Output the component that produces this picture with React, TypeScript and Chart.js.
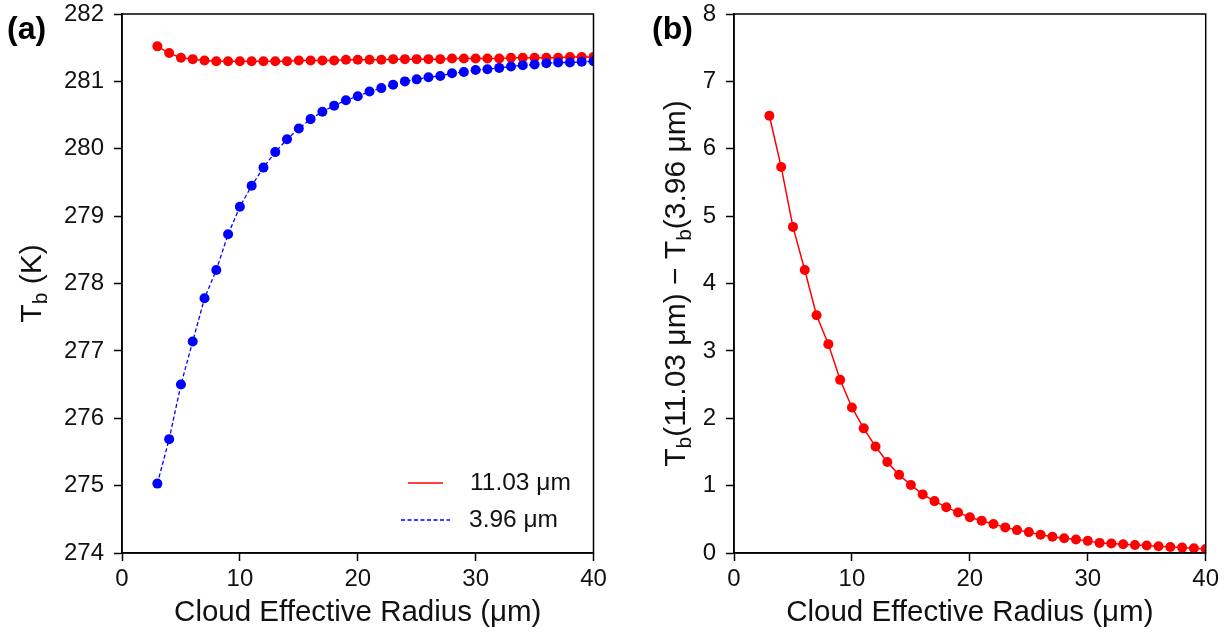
import React, { useEffect, useRef } from 'react';
import { Chart, registerables } from 'chart.js';

Chart.register(...registerables);

const FONT = "'Liberation Sans', Arial, Helvetica, sans-serif";

// Cloud effective radius (µm)
const radius = [3, 4, 5, 6, 7, 8, 9, 10, 11, 12, 13, 14, 15, 16, 17, 18, 19, 20, 21, 22, 23, 24, 25, 26, 27, 28, 29, 30, 31, 32, 33, 34, 35, 36, 37, 38, 39, 40];

// Tb at 11.03 µm (K)
const tb1103 = [281.52, 281.42, 281.35, 281.33, 281.31, 281.30, 281.30, 281.30, 281.30, 281.30, 281.30, 281.30, 281.31, 281.31, 281.31, 281.31, 281.32, 281.32, 281.32, 281.32, 281.33, 281.33, 281.33, 281.33, 281.33, 281.34, 281.34, 281.34, 281.34, 281.34, 281.35, 281.35, 281.35, 281.35, 281.35, 281.36, 281.36, 281.36];

// Tb at 3.96 µm (K)
const tb396 = [275.03, 275.69, 276.50, 277.14, 277.78, 278.20, 278.73, 279.14, 279.45, 279.72, 279.95, 280.14, 280.30, 280.44, 280.55, 280.64, 280.72, 280.78, 280.85, 280.90, 280.95, 281.00, 281.03, 281.06, 281.08, 281.12, 281.14, 281.17, 281.18, 281.20, 281.22, 281.24, 281.25, 281.27, 281.28, 281.28, 281.29, 281.30];

// Tb(11.03) - Tb(3.96) (K)
const tbDiff = [6.49, 5.73, 4.84, 4.20, 3.53, 3.10, 2.57, 2.16, 1.85, 1.58, 1.35, 1.16, 1.01, 0.87, 0.77, 0.68, 0.60, 0.53, 0.48, 0.43, 0.38, 0.34, 0.31, 0.27, 0.24, 0.22, 0.20, 0.18, 0.15, 0.14, 0.13, 0.12, 0.11, 0.10, 0.09, 0.08, 0.07, 0.06];

const xTicks = [0, 10, 20, 30, 40];
const leftYTicks = [274, 275, 276, 277, 278, 279, 280, 281, 282];
const rightYTicks = [0, 1, 2, 3, 4, 5, 6, 7, 8];

const xTitle = 'Cloud Effective Radius (μm)';
const leftYTitle = [
  { t: 'T', sub: false },
  { t: 'b', sub: true },
  { t: ' (K)', sub: false },
];
const rightYTitle = [
  { t: 'T', sub: false },
  { t: 'b', sub: true },
  { t: '(11.03 μm) − T', sub: false },
  { t: 'b', sub: true },
  { t: '(3.96 μm)', sub: false },
];
const legendItems = [
  { label: '11.03 μm', color: '#ff0000', dash: [] as number[], x1: 408, x2: 443, tx: 470, y: 483 },
  { label: '3.96 μm', color: '#0000ff', dash: [4, 2.5], x1: 401, x2: 450, tx: 469, y: 520 },
];

type Part = { t: string; sub: boolean };

interface PanelCfg {
  panel: string;
  panelX: number;
  yTitle: Part[];
  yTitleX: number;
  showLegend: boolean;
}

function makeDecor(cfg: PanelCfg) {
  return {
    id: 'decor' + cfg.panel,
    afterDraw(chart: any) {
      const { ctx, chartArea: ca } = chart;
      ctx.save();
      ctx.strokeStyle = '#000';
      ctx.lineWidth = 1.5;
      ctx.strokeRect(ca.left, ca.top, ca.right - ca.left, ca.bottom - ca.top);

      ctx.fillStyle = '#000';
      ctx.font = `bold 32px ${FONT}`;
      ctx.textAlign = 'left';
      ctx.textBaseline = 'middle';
      ctx.fillText(cfg.panel, cfg.panelX, 30);

      if (cfg.showLegend) {
        ctx.font = `24.5px ${FONT}`;
        for (const it of legendItems) {
          ctx.strokeStyle = it.color;
          ctx.lineWidth = 1.5;
          ctx.setLineDash(it.dash);
          ctx.beginPath();
          ctx.moveTo(it.x1, it.y);
          ctx.lineTo(it.x2, it.y);
          ctx.stroke();
          ctx.setLineDash([]);
          ctx.fillStyle = '#111';
          ctx.fillText(it.label, it.tx, it.y);
        }
      }

      // rotated y-axis title with subscripts
      ctx.translate(cfg.yTitleX, (ca.top + ca.bottom) / 2);
      ctx.rotate(-Math.PI / 2);
      const mainF = `30px ${FONT}`;
      const subF = `21px ${FONT}`;
      let total = 0;
      for (const p of cfg.yTitle) {
        ctx.font = p.sub ? subF : mainF;
        total += ctx.measureText(p.t).width;
      }
      let x = -total / 2;
      ctx.fillStyle = '#111';
      ctx.textAlign = 'left';
      ctx.textBaseline = 'middle';
      for (const p of cfg.yTitle) {
        ctx.font = p.sub ? subF : mainF;
        ctx.fillText(p.t, x, p.sub ? 8 : 0);
        x += ctx.measureText(p.t).width;
      }
      ctx.restore();
    },
  };
}

function axisCommon() {
  return {
    grid: { drawOnChartArea: false, drawTicks: true, tickLength: 8, tickWidth: 1.5, color: '#000' },
    border: { display: true, color: '#000', width: 1.5 },
  };
}

function buildConfig(
  datasets: any[],
  yMin: number,
  yMax: number,
  yTicks: number[],
  yWidth: number,
  padRight: number,
  cfg: PanelCfg
): any {
  return {
    type: 'line',
    data: { datasets },
    options: {
      responsive: false,
      animation: false,
      events: [],
      devicePixelRatio: 1,
      layout: { padding: { left: 0, right: padRight, top: 14, bottom: 0 } },
      plugins: { legend: { display: false }, tooltip: { enabled: false } },
      scales: {
        x: {
          type: 'linear',
          position: 'bottom',
          min: 0,
          max: 40,
          afterBuildTicks: (s: any) => {
            s.ticks = xTicks.map((v) => ({ value: v }));
          },
          afterFit: (s: any) => {
            s.height = 81;
            s.paddingLeft = 0;
            s.paddingRight = 0;
          },
          ticks: {
            color: '#111',
            font: { size: 24, family: FONT },
            padding: 4,
            maxRotation: 0,
            callback: (v: any) => String(v),
          },
          title: {
            display: true,
            text: xTitle,
            color: '#111',
            font: { size: 29.5, family: FONT },
            padding: { top: 0, bottom: 3 },
          },
          ...axisCommon(),
        },
        y: {
          type: 'linear',
          position: 'left',
          min: yMin,
          max: yMax,
          afterBuildTicks: (s: any) => {
            s.ticks = yTicks.map((v) => ({ value: v }));
          },
          afterFit: (s: any) => {
            s.width = yWidth;
            s.paddingTop = 0;
            s.paddingBottom = 0;
          },
          ticks: {
            color: '#111',
            font: { size: 24, family: FONT },
            padding: 10,
            callback: (v: any) => String(v),
          },
          ...axisCommon(),
        },
      },
    },
    plugins: [makeDecor(cfg)],
  };
}

function series(ys: number[]) {
  return radius.map((r, i) => ({ x: r, y: ys[i] }));
}

export default function App() {
  const leftRef = useRef<HTMLCanvasElement>(null);
  const rightRef = useRef<HTMLCanvasElement>(null);

  useEffect(() => {
    Chart.defaults.font.family = FONT;
    const left = new Chart(
      leftRef.current as HTMLCanvasElement,
      buildConfig(
        [
          {
            label: '3.96 μm',
            data: series(tb396),
            borderColor: '#0000ff',
            backgroundColor: '#0000ff',
            borderWidth: 1.3,
            borderDash: [4, 2.5],
            pointRadius: 5,
            pointBorderWidth: 0,
            tension: 0,
            order: 0,
          },
          {
            label: '11.03 μm',
            data: series(tb1103),
            borderColor: '#ff0000',
            backgroundColor: '#ff0000',
            borderWidth: 1.5,
            pointRadius: 5,
            pointBorderWidth: 0,
            tension: 0,
            order: 1,
          },
        ],
        274,
        282,
        leftYTicks,
        122,
        20.5,
        { panel: '(a)', panelX: 7, yTitle: leftYTitle, yTitleX: 33, showLegend: true }
      )
    );
    const right = new Chart(
      rightRef.current as HTMLCanvasElement,
      buildConfig(
        [
          {
            label: 'diff',
            data: series(tbDiff),
            borderColor: '#ff0000',
            backgroundColor: '#ff0000',
            borderWidth: 1.5,
            pointRadius: 5,
            pointBorderWidth: 0,
            tension: 0,
          },
        ],
        0,
        8,
        rightYTicks,
        120,
        23.3,
        { panel: '(b)', panelX: 38, yTitle: rightYTitle, yTitleX: 63, showLegend: false }
      )
    );
    return () => {
      left.destroy();
      right.destroy();
    };
  }, []);

  return (
    <div style={{ position: 'absolute', left: 0, top: 0, width: 1229, height: 634, background: '#fff' }}>
      <canvas ref={leftRef} width={614} height={634} style={{ position: 'absolute', left: 0, top: 0, display: 'block' }} />
      <canvas ref={rightRef} width={615} height={634} style={{ position: 'absolute', left: 614, top: 0, display: 'block' }} />
    </div>
  );
}
